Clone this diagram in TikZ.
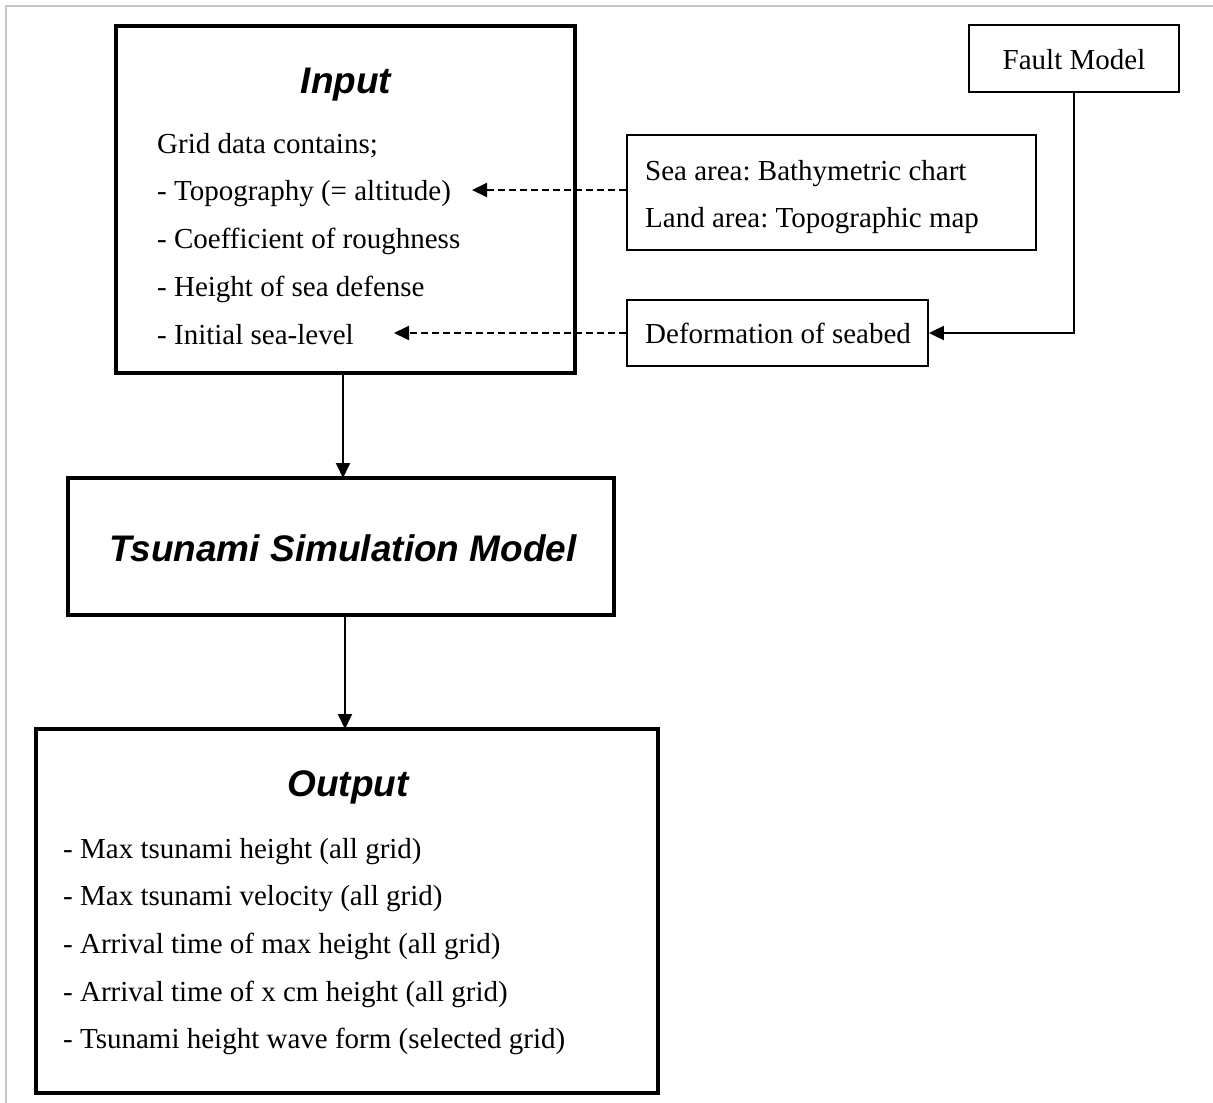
\documentclass[tikz,border=0pt]{standalone}
\usepackage{fontspec}
\setmainfont{Liberation Serif}
\newfontfamily\titlefont{Liberation Sans}
\usetikzlibrary{arrows.meta}
\frenchspacing
\begin{document}
\begin{tikzpicture}[x=1pt,y=-1pt,
  bigbox/.style={draw,line width=3.8pt,rectangle,inner sep=0pt},
  smallbox/.style={draw,line width=1.8pt,rectangle,inner sep=0pt},
  body/.style={anchor=base west,inner sep=0pt,font=\fontsize{29}{34}\selectfont},
  bodyc/.style={anchor=base,inner sep=0pt,font=\fontsize{29}{34}\selectfont},
  ttl/.style={anchor=base,inner sep=0pt,font=\fontsize{37}{42}\selectfont\titlefont\bfseries\itshape},
  conn/.style={line width=1.9pt,-{Triangle[length=15pt,width=14pt]}},
  dconn/.style={conn,dash pattern=on 7pt off 4pt},
  frame/.style={draw=black!22,line width=2pt}]
\useasboundingbox (0,0) rectangle (1213,1103);
\draw[frame] (6,1103) -- (6,6) -- (1213,6);

% boxes
\node[bigbox,minimum width=459pt,minimum height=347pt] (input) at (345.5,199.5) {};
\node[bigbox,minimum width=546pt,minimum height=137pt] (tsunami) at (341,546.5) {};
\node[bigbox,minimum width=622pt,minimum height=364pt] (output) at (347,911) {};
\node[smallbox,minimum width=409pt,minimum height=115pt] (sea) at (831.5,192.5) {};
\node[smallbox,minimum width=301pt,minimum height=66pt] (deform) at (777.5,333) {};
\node[smallbox,minimum width=210pt,minimum height=67pt] (fault) at (1074,58.5) {};

% texts
\node[ttl] (inputttl) at (346,93) {Input};
\node[body] (l1) at (157,153) {Grid data contains;};
\node[body] (l2) at (157,200) {- Topography (= altitude)};
\node[body] (l3) at (157,248) {- Coefficient of roughness};
\node[body] (l4) at (157,296) {- Height of sea defense};
\node[body] (l5) at (157,344) {- Initial sea-level};

\node[body] (s1) at (645,180) {Sea area: Bathymetric chart};
\node[body] (s2) at (645,227) {Land area: Topographic map};
\node[body] (d1) at (645,343) {Deformation of seabed};
\node[bodyc] (f1) at (1074,69) {Fault Model};

\node[ttl] (tsuttl) at (343,561) {Tsunami Simulation Model};

\node[ttl] (outttl) at (348,796) {Output};
\node[body] (o1) at (63,858) {- Max tsunami height (all grid)};
\node[body] (o2) at (63,905) {- Max tsunami velocity (all grid)};
\node[body] (o3) at (63,953) {- Arrival time of max height (all grid)};
\node[body] (o4) at (63,1001) {- Arrival time of x cm height (all grid)};
\node[body] (o5) at (63,1048) {- Tsunami height wave form (selected grid)};

% connectors
\coordinate (tip1) at (472,190);
\coordinate (tip2) at (394,333);
\draw[dconn] (sea.west |- tip1) -- (tip1);
\draw[dconn] (deform.west) -- (tip2);
\draw[conn] (fault.south) |- (deform.east);
\draw[conn] (343,373) -- (343,478);
\draw[conn] (345,615) -- (345,729);
\end{tikzpicture}
\end{document}
